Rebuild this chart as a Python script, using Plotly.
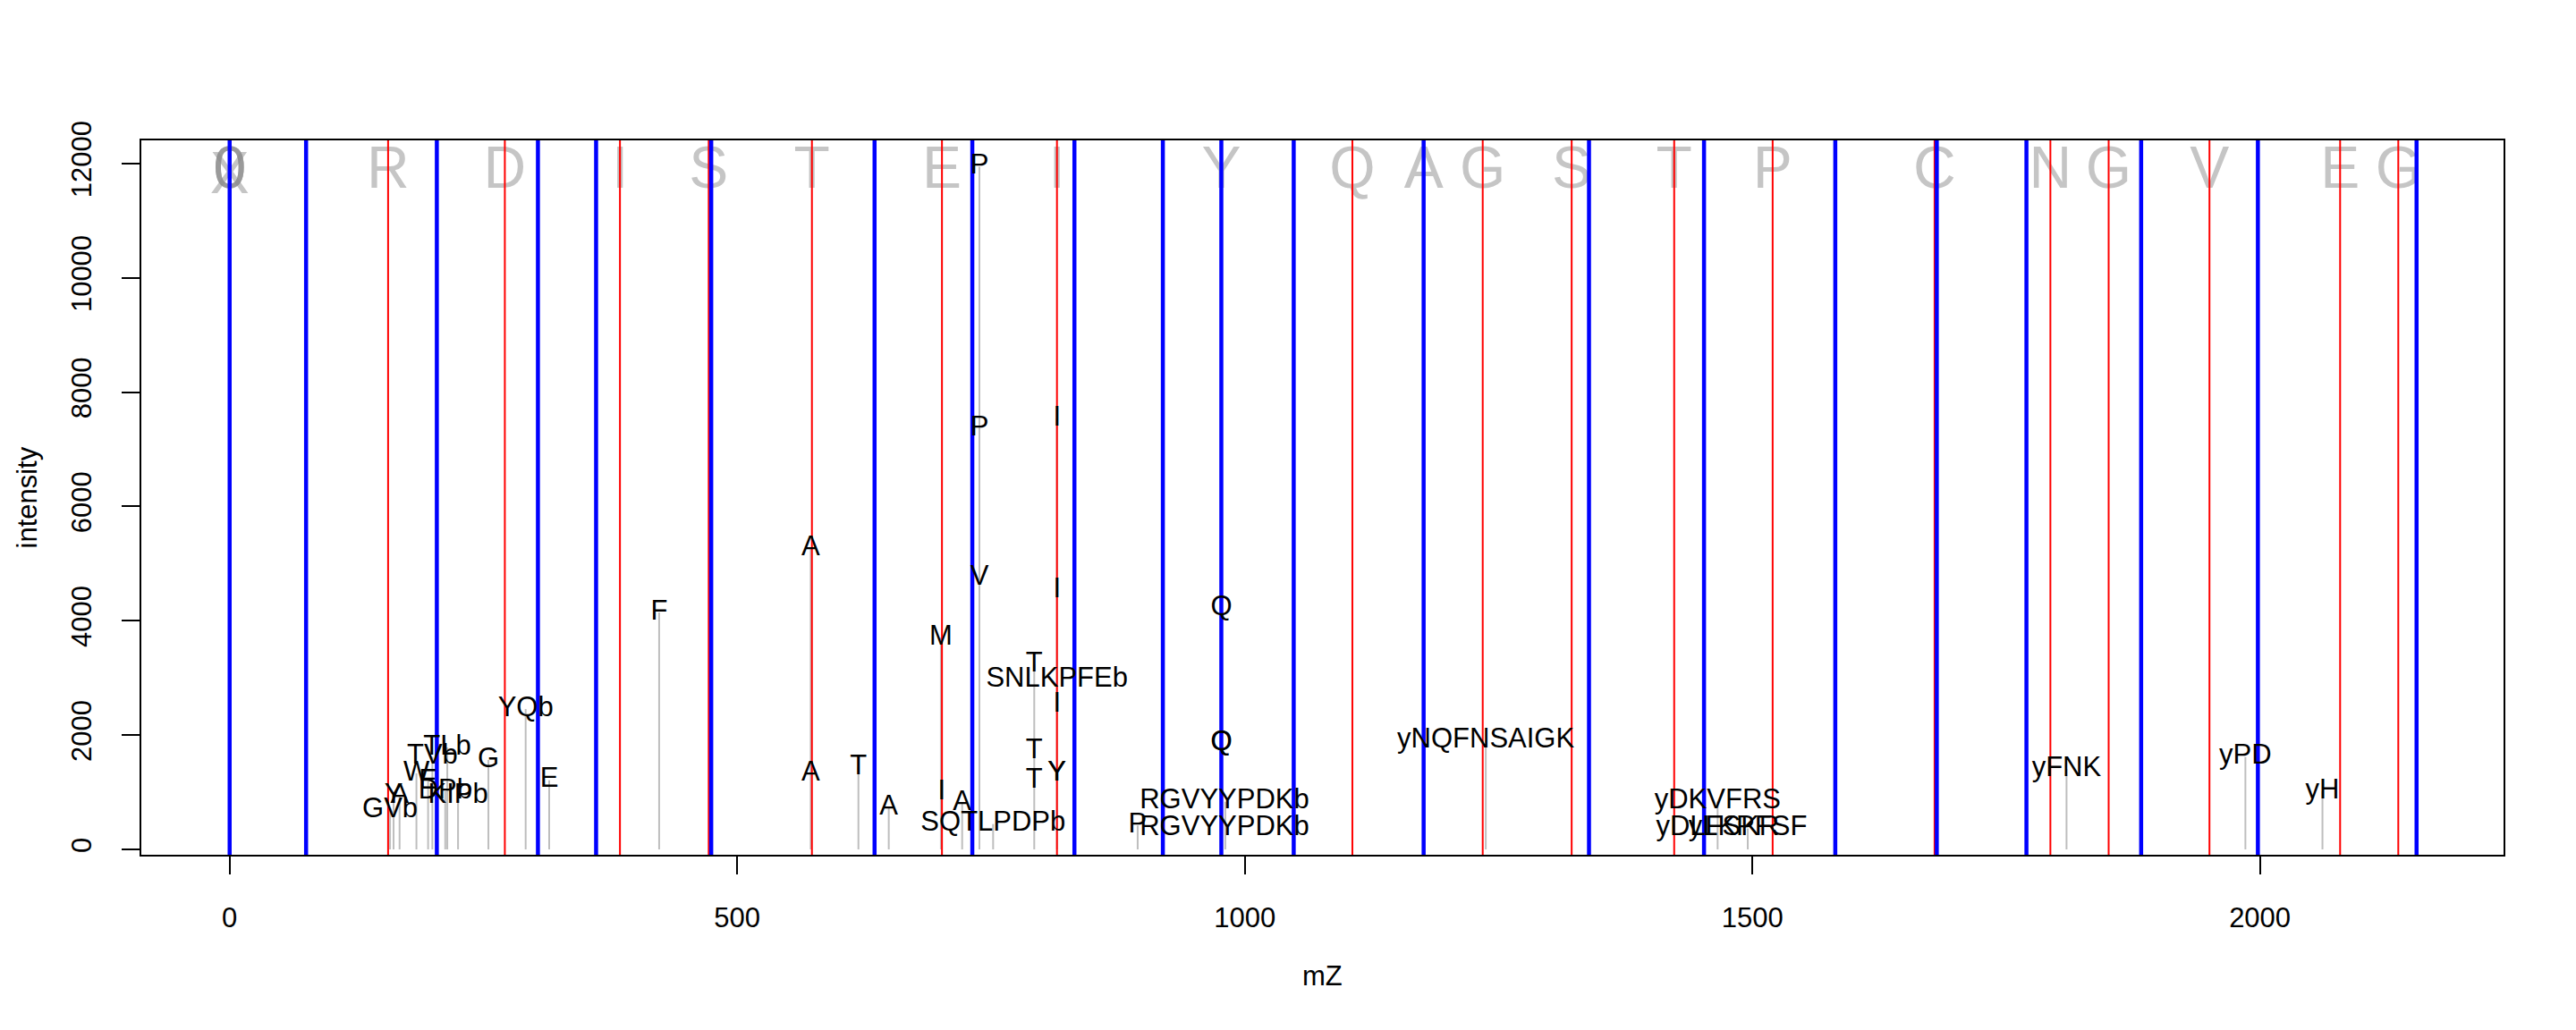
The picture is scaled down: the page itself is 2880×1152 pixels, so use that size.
import plotly.graph_objects as go

# ---------------- data ----------------
b_ions = [0, 156.1, 271.1, 384.5, 471.9, 573.6, 701.7, 815.0, 977.0, 1106.0, 1176.2,
          1234.4, 1322.0, 1423.0, 1520.0, 1679.5, 1793.6, 1851.0, 1950.3, 2079.0, 2136.3]
y_ions = [0, 75.3, 204.1, 303.7, 361.0, 474.4, 635.3, 731.6, 832.2, 919.3, 976.9, 1048.2,
          1176.2, 1339.1, 1452.4, 1581.7, 1681.7, 1770.0, 1883.0, 1998.0, 2154.3]

seq_letters = ["0", "0", "0", "X", "R", "D", "I", "S", "T", "E", "I", "Y", "Q", "A", "G",
               "S", "T", "P", "C", "N", "G", "V", "E", "G"]
seq_mz = [0, 0, 0, 0, 156.1, 271.1, 384.5, 471.9, 573.6, 701.7, 815.0, 977.0, 1106.0, 1176.2,
          1234.4, 1322.0, 1423.0, 1520.0, 1679.5, 1793.6, 1851.0, 1950.3, 2079.0, 2136.3]
seq_int = [11830, 11830, 11830, 11740] + [11830] * 20

peak_mz = [158, 161.5, 167.4, 184, 195.5, 199.7, 212.4, 214.4, 225, 254.9, 291.6, 314.8,
           423.1, 572.4, 619.4, 649.3, 700.6, 721.6, 738.6, 752.1, 792.6, 815, 894.5,
           977, 980.8, 1237.4, 1465.8, 1495.5, 1809.5, 1985.7, 2061.6]
peak_int = [677, 928, 939, 1330, 1189, 1616, 1017, 1783, 939, 1564, 2456, 1209,
            4146, 5265, 1435, 731, 3703, 809, 11940, 443, 3234, 7534, 418,
            4224, 834, 1904, 834, 365, 1408, 1616, 1017]

label_text = ["GVb", "Y", "A", "W", "E", "TVb", "DPb", "TLb", "KIPb", "G", "YQb", "E",
              "F", "A", "A", "T", "A", "M", "I", "A", "P", "P", "V", "SQTLPDPb",
              "T", "T", "T", "I", "I", "SNLKPFEb", "I", "Y", "Y", "P",
              "Q", "Q", "Q", "RGVYYPDKb", "RGVYYPDKb", "yNQFNSAIGK", "yDKVFRS",
              "yDLFSKR", "yLKPFSF", "yFNK", "yPD", "yH"]
label_mz = [158, 161.5, 167.4, 184, 195.5, 199.7, 212.4, 214.4, 225, 254.9, 291.6, 314.8,
            423.1, 572.4, 572.4, 619.4, 649.3, 700.6, 701.4, 721.6, 738.6, 738.6, 738.6, 752.1,
            792.6, 792.6, 792.6, 815, 815, 815, 815, 815, 815, 894.5,
            977, 977, 977, 980, 980, 1237.4, 1465.8,
            1465.8, 1495.5, 1809.5, 1985.7, 2061.6]
label_int = [677, 928, 939, 1330, 1189, 1616, 1017, 1783, 939, 1564, 2456, 1209,
             4146, 5265, 1330, 1435, 731, 3703, 1001, 809, 11940, 7362, 4745, 443,
             3234, 1710, 1200, 7534, 4537, 2972, 2530, 1330, 1330, 418,
             4224, 1851, 1851, 834, 365, 1904, 834,
             365, 365, 1408, 1616, 1017]

x_ticks = [0, 500, 1000, 1500, 2000]
y_ticks = [0, 2000, 4000, 6000, 8000, 10000, 12000]
x_range = [-87, 2240]
y_range = [-94, 12403]

# ---------------- figure ----------------
FONT = "Liberation Sans, Arial, Helvetica, sans-serif"
fig = go.Figure()

# sequence letters (drawn first, below everything)
fig.add_trace(go.Scatter(
    x=seq_mz, y=seq_int, mode="text", text=seq_letters,
    textposition="middle center",
    textfont=dict(family=FONT, size=66, color="rgba(140,140,140,0.5)"),
    hoverinfo="skip", showlegend=False, cliponaxis=False))

# peaks (type = "h")
px, py = [], []
for m, i in zip(peak_mz, peak_int):
    px += [m, m, None]
    py += [0, i, None]
fig.add_trace(go.Scatter(x=px, y=py, mode="lines",
                         line=dict(color="#BEBEBE", width=2),
                         hoverinfo="skip", showlegend=False))


def vlines(values):
    xs, ys = [], []
    for m in values:
        xs += [m, m, None]
        ys += [y_range[0], y_range[1], None]
    return xs, ys


bx, by = vlines(b_ions)
fig.add_trace(go.Scatter(x=bx, y=by, mode="lines", line=dict(color="#FF0000", width=2),
                         hoverinfo="skip", showlegend=False))
yx, yy = vlines(y_ions)
fig.add_trace(go.Scatter(x=yx, y=yy, mode="lines", line=dict(color="#0000FF", width=4.5),
                         hoverinfo="skip", showlegend=False))

# peak labels
fig.add_trace(go.Scatter(
    x=label_mz, y=label_int, mode="text", text=label_text,
    textposition="middle center",
    textfont=dict(family=FONT, size=31, color="black"),
    hoverinfo="skip", showlegend=False, cliponaxis=False))

fig.update_layout(
    width=2880, height=1152, autosize=False,
    margin=dict(l=158, r=81, t=157, b=196, pad=0),
    paper_bgcolor="white", plot_bgcolor="white",
    font=dict(family=FONT, size=31, color="black"),
    annotations=[
        dict(text="mZ", xref="paper", yref="paper", x=0.5, y=0,
             xanchor="center", yanchor="middle", yshift=-135, showarrow=False,
             font=dict(family=FONT, size=31, color="black")),
        dict(text="intensity", xref="paper", yref="paper", x=0, y=0.5,
             xanchor="center", yanchor="middle", xshift=-128, textangle=-90,
             showarrow=False, font=dict(family=FONT, size=31, color="black")),
    ],
)
fig.update_xaxes(range=x_range, tickvals=x_ticks, ticktext=[str(v) for v in x_ticks],
                 ticks="outside", ticklen=20, tickwidth=2, tickcolor="black",
                 showgrid=False, zeroline=False, showline=True, mirror=True,
                 linecolor="black", linewidth=2, ticklabelstandoff=22,
                 tickfont=dict(family=FONT, size=31, color="black"))
fig.update_yaxes(range=y_range, tickvals=y_ticks, ticktext=[str(v) for v in y_ticks],
                 ticks="outside", ticklen=20, tickwidth=2, tickcolor="black",
                 tickangle=-90, showgrid=False, zeroline=False, showline=True, mirror=True,
                 linecolor="black", linewidth=2, ticklabelstandoff=22,
                 tickfont=dict(family=FONT, size=31, color="black"))

fig.write_html("out.html")
